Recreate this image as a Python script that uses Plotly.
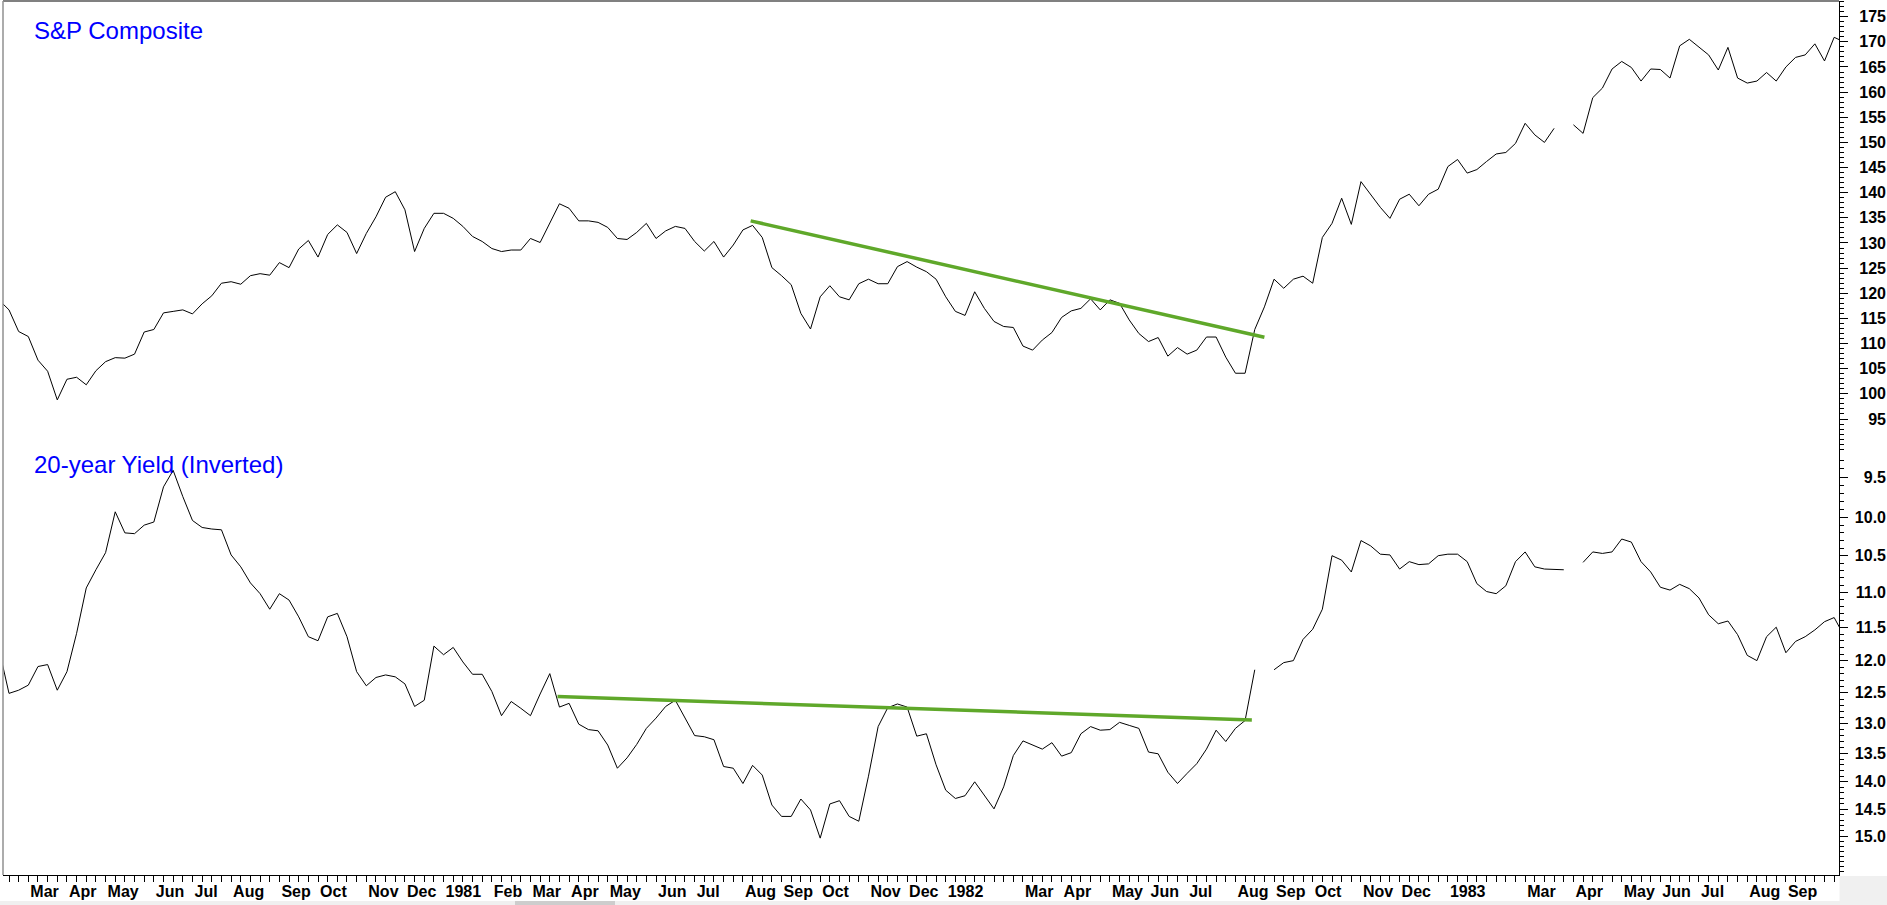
import plotly.graph_objects as go

# ---------------- data (weekly slots, slot 0 = 22 Feb 1980) ----------------
week_idx = list(range(-1, 191))

sp_close = [
    118.6, 116.7, 112.4, 111.4, 106.7, 104.5, 98.8, 102.9, 103.3, 101.8,
    104.6, 106.4, 107.2, 107.1, 107.9, 112.3, 112.8, 116.1, 116.4, 116.7,
    115.9, 117.9, 119.5, 122.0, 122.3, 121.8, 123.5, 123.9, 123.6, 126.1,
    125.1, 128.8, 130.5, 127.2, 131.7, 133.6, 132.1, 127.9, 131.9, 135.2,
    139.1, 140.2, 136.6, 128.3, 132.9, 135.9, 135.9, 134.9, 133.3, 131.3,
    130.3, 128.9, 128.3, 128.6, 128.6, 130.9, 130.1, 133.9, 137.8, 136.9,
    134.4, 134.4, 134.1, 133.1, 130.9, 130.7, 132.1, 133.9, 130.9, 132.4,
    133.3, 132.9, 130.3, 128.4, 130.3, 127.2, 129.6, 132.6, 133.5, 131.1,
    125.1, 123.5, 121.7, 116.0, 112.9, 119.3, 121.5, 119.3, 118.7, 121.9,
    122.8, 121.9, 121.9, 125.3, 126.3, 125.2, 124.3, 122.8, 119.3, 116.4,
    115.6, 120.3, 117.0, 114.4, 113.4, 113.2, 109.5, 108.7, 110.7, 112.2,
    115.2, 116.5, 117.0, 118.9, 116.7, 118.7, 118.0, 114.7, 112.0, 110.4,
    111.2, 107.5, 109.2, 107.9, 108.7, 111.3, 111.3, 107.3, 104.1, 104.1,
    112.8, 117.3, 122.8, 121.0, 122.8, 123.4, 122.0, 131.1, 133.9, 138.9,
    133.7, 142.2, 139.7, 137.1, 134.9, 138.7, 139.7, 137.4, 139.7, 140.7,
    145.2, 146.6, 143.9, 144.6, 146.2, 147.7, 148.0, 149.8, 153.8, 151.5,
    150.0, 152.8, None, 153.5, 151.8, 158.9, 160.8, 164.6, 166.1, 164.9,
    162.2, 164.6, 164.5, 162.8, 169.2, 170.5, 168.9, 167.4, 164.4, 168.9,
    162.8, 161.8, 162.2, 163.9, 162.2, 165.0, 166.9, 167.4, 169.6, 166.2,
    170.9, 170.0,
]

yield_20y = [
    11.85, 12.51, 12.46, 12.38, 12.09, 12.06, 12.46, 12.17, 11.59, 10.94,
    10.69, 10.46, 9.93, 10.20, 10.21, 10.10, 10.06, 9.62, 9.42, 9.74,
    10.04, 10.13, 10.15, 10.16, 10.49, 10.65, 10.87, 11.02, 11.24, 11.02,
    11.11, 11.35, 11.64, 11.70, 11.35, 11.30, 11.64, 12.17, 12.39, 12.26,
    12.22, 12.25, 12.36, 12.72, 12.62, 11.78, 11.91, 11.80, 12.02, 12.21,
    12.21, 12.48, 12.87, 12.64, 12.75, 12.87, 12.52, 12.20, 12.73, 12.67,
    13.01, 13.10, 13.12, 13.36, 13.76, 13.58, 13.35, 13.08, 12.91, 12.72,
    12.62, 12.91, 13.20, 13.22, 13.27, 13.73, 13.76, 14.03, 13.71, 13.88,
    14.42, 14.63, 14.63, 14.31, 14.51, 15.04, 14.40, 14.34, 14.63, 14.72,
    13.90, 13.05, 12.74, 12.68, 12.73, 13.21, 13.17, 13.70, 14.15, 14.30,
    14.25, 14.00, 14.25, 14.49, 14.09, 13.54, 13.29, 13.36, 13.43, 13.32,
    13.55, 13.49, 13.17, 13.05, 13.11, 13.10, 12.98, 13.03, 13.08, 13.48,
    13.51, 13.83, 14.03, 13.85, 13.68, 13.43, 13.11, 13.30, 13.08, 12.95,
    12.14, None, 12.14, 12.03, 12.00, 11.68, 11.53, 11.24, 10.50, 10.56,
    10.72, 10.30, 10.37, 10.48, 10.49, 10.68, 10.58, 10.62, 10.61, 10.50,
    10.48, 10.48, 10.58, 10.88, 10.99, 11.02, 10.91, 10.58, 10.45, 10.65,
    10.68, 10.69, 10.69, None, 10.59, 10.45, 10.47, 10.45, 10.28, 10.32,
    10.58, 10.72, 10.93, 10.97, 10.89, 10.95, 11.08, 11.32, 11.45, 11.41,
    11.61, 11.92, 12.00, 11.64, 11.50, 11.88, 11.71, 11.64, 11.54, 11.42,
    11.36, 11.62,
]

# trendlines (week slot, value)
sp_trend_x = [76.8, 130.0]
sp_trend_y = [134.4, 111.25]
yl_trend_x = [56.8, 128.7]
yl_trend_y = [12.56, 12.94]

# month axis: first weekly slot of each month and its label
month_idx = [2, 6, 10, 15, 19, 23, 28, 32, 37, 41, 45, 50, 54, 58, 62, 67, 71, 76, 80, 84,
             89, 93, 97, 105, 109, 114, 118, 122, 127, 131, 135, 140, 144, 149, 157, 162,
             167, 171, 175, 180, 184, 189]
month_lbl = ["Mar", "Apr", "May", "Jun", "Jul", "Aug", "Sep", "Oct", "Nov", "Dec", "1981",
             "Feb", "Mar", "Apr", "May", "Jun", "Jul", "Aug", "Sep", "Oct", "Nov", "Dec",
             "1982", "Mar", "Apr", "May", "Jun", "Jul", "Aug", "Sep", "Oct", "Nov", "Dec",
             "1983", "Mar", "Apr", "May", "Jun", "Jul", "Aug", "Sep", "Oct"]

sp_ticks = [95, 100, 105, 110, 115, 120, 125, 130, 135, 140, 145, 150, 155, 160, 165, 170, 175]
yl_ticks = [9.5, 10.0, 10.5, 11.0, 11.5, 12.0, 12.5, 13.0, 13.5, 14.0, 14.5, 15.0]
yl_minor = [round(9.3 + 0.1 * k, 1) for k in range(0, 65)]

# ---------------- layout geometry ----------------
W, H = 1887, 905
ML, MR, MT, MB = 3, 0, 1, 30
PW = W - ML - MR
PH = H - MT - MB
AXIS_X = 1839
XD = (AXIS_X - ML) / PW
XR = [-0.621, 189.5]
SPLIT = 453  # px boundary between panels
Y2D = [0, (H - MB - SPLIT) / PH]
Y1D = [Y2D[1], 1]
Y1R = [88.24, 178.12]
Y2R = [1.19761, 0.96446]  # log10, reversed (inverted yield)

FONT = "Liberation Sans, Arial, sans-serif"
GREEN = "#5FA82A"
XLAB_SIZE = 16

px_per_slot = (AXIS_X - ML) / (XR[1] - XR[0])
bold_w = {"M": 833, "a": 556, "r": 389, "A": 722, "p": 611, "y": 556, "J": 556, "u": 611,
          "n": 611, "l": 278, "g": 611, "S": 667, "e": 556, "O": 778, "c": 556, "t": 333,
          "N": 722, "o": 611, "v": 556, "D": 722, "F": 611, "b": 611}
def label_w(s, size=XLAB_SIZE):
    return sum(bold_w.get(ch, 556) for ch in s) * size / 1000.0
label_pos = [i + (2.0 + label_w(t) / 2) / px_per_slot for i, t in zip(month_idx, month_lbl)]

fig = go.Figure()
fig.add_trace(go.Scatter(x=week_idx, y=sp_close, mode="lines", xaxis="x", yaxis="y",
                         line=dict(color="black", width=1), showlegend=False, hoverinfo="skip"))
fig.add_trace(go.Scatter(x=sp_trend_x, y=sp_trend_y, mode="lines", xaxis="x", yaxis="y",
                         line=dict(color=GREEN, width=3.5), showlegend=False, hoverinfo="skip"))
fig.add_trace(go.Scatter(x=week_idx, y=yield_20y, mode="lines", xaxis="x", yaxis="y2",
                         line=dict(color="black", width=1), showlegend=False, hoverinfo="skip"))
fig.add_trace(go.Scatter(x=yl_trend_x, y=yl_trend_y, mode="lines", xaxis="x", yaxis="y2",
                         line=dict(color=GREEN, width=3.5), showlegend=False, hoverinfo="skip"))
# helper (empty) traces for label axes
fig.add_trace(go.Scatter(x=[], y=[], xaxis="x2", yaxis="y2", showlegend=False))
fig.add_trace(go.Scatter(x=[], y=[], xaxis="x", yaxis="y3", showlegend=False))
fig.add_trace(go.Scatter(x=[], y=[], xaxis="x", yaxis="y4", showlegend=False))

tickfont = dict(family=FONT, size=XLAB_SIZE, color="black", weight="bold")
ylabfont = dict(family=FONT, size=16, color="black", weight="bold")

fig.update_layout(
    width=W, height=H,
    margin=dict(l=ML, r=MR, t=MT, b=MB, pad=0),
    paper_bgcolor="white", plot_bgcolor="white",
    showlegend=False, hovermode=False,
    xaxis=dict(domain=[0, XD], range=XR, anchor="y2", showgrid=False, zeroline=False,
               showline=True, linecolor="black", linewidth=1,
               tickmode="array", tickvals=month_idx, ticktext=[""] * len(month_idx),
               ticks="outside", ticklen=25, tickwidth=1, tickcolor="black",
               showticklabels=False,
               minor=dict(tickmode="linear", tick0=0, dtick=1, ticks="outside",
                          ticklen=6, tickwidth=1, tickcolor="black", showgrid=False),
               automargin=False, fixedrange=True),
    xaxis2=dict(overlaying="x", anchor="y2", side="bottom", range=XR, showgrid=False,
                zeroline=False, showline=False, ticks="",
                tickmode="array", tickvals=label_pos, ticktext=month_lbl,
                tickfont=tickfont, ticklabelstandoff=5, automargin=False, fixedrange=True),
    yaxis=dict(domain=Y1D, range=Y1R, anchor="x", side="right", showgrid=False,
               zeroline=False, showline=True, linecolor="black", linewidth=1,
               tickmode="array", tickvals=sp_ticks, ticks="outside", ticklen=8,
               tickcolor="black", showticklabels=False,
               minor=dict(tickmode="linear", tick0=0, dtick=1, ticks="outside", ticklen=4,
                          tickcolor="black", showgrid=False),
               automargin=False, fixedrange=True),
    yaxis2=dict(domain=Y2D, type="log", range=Y2R, anchor="x", side="right", showgrid=False,
                zeroline=False, showline=True, linecolor="black", linewidth=1,
                tickmode="array", tickvals=yl_ticks, ticks="outside", ticklen=8,
                tickcolor="black", showticklabels=False,
                minor=dict(tickmode="array", tickvals=yl_minor, ticks="outside", ticklen=4,
                           tickcolor="black", showgrid=False),
                automargin=False, fixedrange=True),
    yaxis3=dict(overlaying="y", anchor="free", position=1.0, side="left", range=Y1R,
                showgrid=False, zeroline=False, showline=False, ticks="",
                tickmode="array", tickvals=sp_ticks, ticktext=[str(v) for v in sp_ticks],
                tickfont=ylabfont, ticklabelstandoff=1, automargin=False, fixedrange=True),
    yaxis4=dict(overlaying="y2", anchor="free", position=1.0, side="left", type="log",
                range=Y2R, showgrid=False, zeroline=False, showline=False, ticks="",
                tickmode="array", tickvals=yl_ticks, ticktext=[f"{v:.1f}" for v in yl_ticks],
                tickfont=ylabfont, ticklabelstandoff=1, automargin=False, fixedrange=True),
)

def py(px):  # pixel row -> paper y
    return (H - MB - px) / PH

def pxx(px):  # pixel column -> paper x
    return (px - ML) / PW

fig.add_annotation(text="S&P Composite", xref="paper", yref="paper", x=pxx(31.5), y=py(14.5),
                   xanchor="left", yanchor="top", showarrow=False,
                   font=dict(family=FONT, size=24, color="#0000FF"))
fig.add_annotation(text="20-year Yield (Inverted)", xref="paper", yref="paper", x=pxx(31.5),
                   y=py(449.5), xanchor="left", yanchor="top", showarrow=False,
                   font=dict(family=FONT, size=24, color="#0000FF"))

shapes = [
    dict(type="line", xref="paper", yref="paper", x0=0, x1=XD, y0=1, y1=1,
         line=dict(color="#808080", width=2)),
    dict(type="line", xref="paper", yref="paper", x0=0, x1=0, y0=0, y1=1,
         line=dict(color="#909090", width=1.5)),
    dict(type="rect", xref="paper", yref="paper", x0=XD + 0.0003, x1=1.0, y0=py(876), y1=py(905),
         fillcolor="#F0F0F0", line=dict(width=0), layer="below"),
    dict(type="rect", xref="paper", yref="paper", x0=pxx(0), x1=1.0, y0=py(901), y1=py(905),
         fillcolor="#F0F0F0", line=dict(width=0)),
    dict(type="rect", xref="paper", yref="paper", x0=pxx(515), x1=pxx(615), y0=py(901), y1=py(905),
         fillcolor="#CDCDCD", line=dict(width=0)),
]
fig.update_layout(shapes=shapes)

fig.write_html("out.html", config={"displayModeBar": False, "staticPlot": True},
               post_script="document.body.style.margin='0';document.body.style.overflow='hidden';")
